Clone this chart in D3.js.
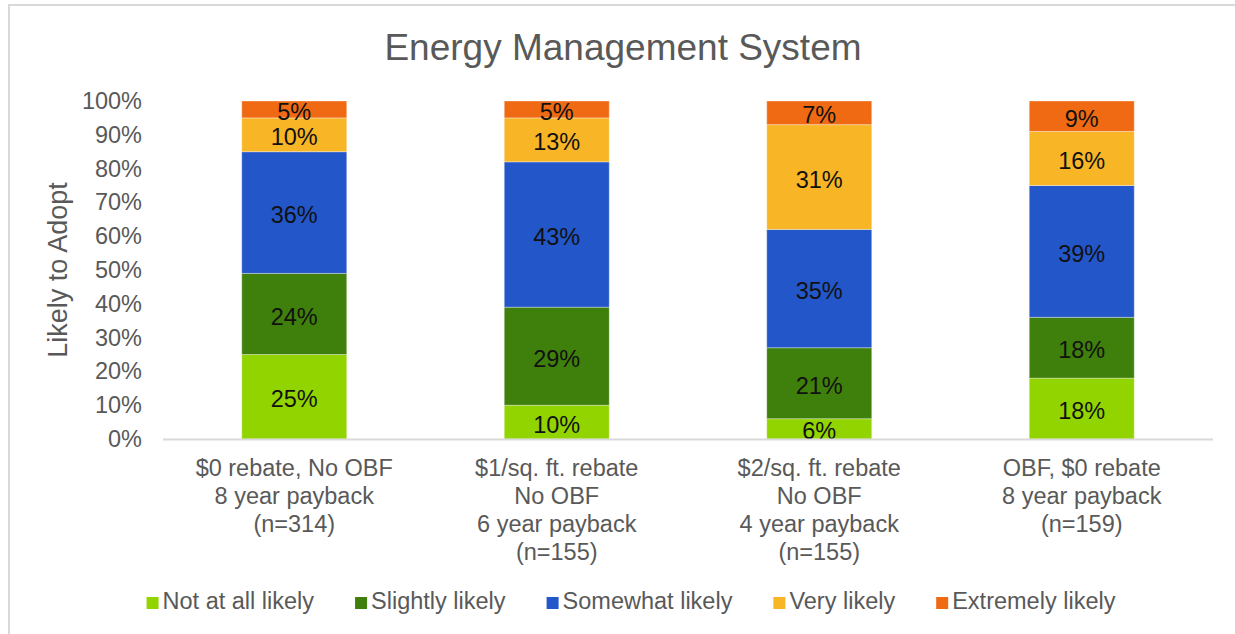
<!DOCTYPE html>
<html>
<head>
<meta charset="utf-8">
<script src="https://cdn.jsdelivr.net/npm/d3@7"></script>
<style>
  html, body { margin: 0; padding: 0; background: #fff; }
  svg { display: block; font-family: "Liberation Sans", Arial, sans-serif; }
</style>
</head>
<body>
<svg id="chart" width="1235" height="634"></svg>
<script>
// Survey scenarios (x categories), one label line per array entry
const categories = [
  ["$0 rebate, No OBF", "8 year payback", "(n=314)"],
  ["$1/sq. ft. rebate", "No OBF", "6 year payback", "(n=155)"],
  ["$2/sq. ft. rebate", "No OBF", "4 year payback", "(n=155)"],
  ["OBF, $0 rebate", "8 year payback", "(n=159)"]
];

// Response levels, bottom to top of each stack
const seriesNames = ["Not at all likely", "Slightly likely", "Somewhat likely", "Very likely", "Extremely likely"];
const seriesColors = ["#92d400", "#3f7f0b", "#2356c8", "#f8b526", "#f06a14"];

// Share of respondents (%) per level, one value per scenario
const notAtAll  = [25, 10, 6, 18];
const slightly  = [24, 29, 21, 18];
const somewhat  = [36, 43, 35, 39];
const very      = [10, 13, 31, 16];
const extremely = [5, 5, 7, 9];

const yTicks = [0, 10, 20, 30, 40, 50, 60, 70, 80, 90, 100];

const seriesValues = [notAtAll, slightly, somewhat, very, extremely];
const rows = categories.map((c, i) => {
  const r = { key: i };
  seriesNames.forEach((s, j) => { r[s] = seriesValues[j][i]; });
  return r;
});

const svg = d3.select("#chart");
const textGray = "#595959";

// Outer chart frame
svg.append("rect")
  .attr("x", 9).attr("y", 5)
  .attr("width", 1240).attr("height", 640)
  .attr("fill", "#fff")
  .attr("stroke", "#d9d9d9").attr("stroke-width", 2);

const plot = { left: 163, right: 1213, top: 101, bottom: 439 };

const x = d3.scaleBand()
  .domain(d3.range(categories.length))
  .range([plot.left, plot.right])
  .paddingInner(0.6)
  .paddingOuter(0.3);

const y = d3.scaleLinear().domain([0, 100]).range([plot.bottom, plot.top]);

const stack = d3.stack().keys(seriesNames);
const layers = stack(rows);

// Title
svg.append("text")
  .attr("x", 623).attr("y", 60)
  .attr("text-anchor", "middle")
  .attr("fill", textGray)
  .style("font-size", "37px")
  .text("Energy Management System");

// Y axis title
svg.append("text")
  .attr("transform", `translate(67,${(plot.top + plot.bottom) / 2}) rotate(-90)`)
  .attr("text-anchor", "middle")
  .attr("fill", textGray)
  .style("font-size", "27px")
  .text("Likely to Adopt");

// Y axis labels (no line, no ticks)
const yAxis = svg.append("g")
  .attr("transform", `translate(${plot.left},0)`)
  .call(d3.axisLeft(y).tickValues(yTicks).tickFormat(d => d + "%").tickSize(0).tickPadding(21));
yAxis.select(".domain").remove();
yAxis.selectAll("text")
  .attr("fill", textGray)
  .style("font-size", "23.5px")
  .style("font-family", "'Liberation Sans', Arial, sans-serif");

// Stacked bars
const layerG = svg.append("g")
  .selectAll("g")
  .data(layers)
  .join("g")
  .attr("fill", (d, i) => seriesColors[i]);

layerG.selectAll("rect")
  .data(d => d)
  .join("rect")
  .attr("x", (d, i) => x(i))
  .attr("width", x.bandwidth())
  .attr("y", d => y(d[1]))
  .attr("height", d => y(d[0]) - y(d[1]))
  .attr("stroke", "rgba(255,255,255,0.35)")
  .attr("stroke-width", 1);

// Value labels centred in each segment
layers.forEach((layer, j) => {
  svg.append("g")
    .selectAll("text")
    .data(layer)
    .join("text")
    .attr("x", (d, i) => x(i) + x.bandwidth() / 2)
    .attr("y", d => (y(d[0]) + y(d[1])) / 2)
    .attr("dy", "0.45em")
    .attr("text-anchor", "middle")
    .attr("fill", "#111")
    .style("font-size", "23.5px")
    .text(d => (d[1] - d[0]) + "%");
});

// Category axis baseline
svg.append("line")
  .attr("x1", plot.left).attr("x2", plot.right)
  .attr("y1", plot.bottom + 0.5).attr("y2", plot.bottom + 0.5)
  .attr("stroke", "#d9d9d9").attr("stroke-width", 2);

// Multi-line category labels
const catG = svg.append("g")
  .selectAll("text")
  .data(categories)
  .join("text")
  .attr("x", (d, i) => x(i) + x.bandwidth() / 2)
  .attr("y", 476)
  .attr("text-anchor", "middle")
  .attr("fill", textGray)
  .style("font-size", "23.5px");
catG.selectAll("tspan")
  .data(d => d)
  .join("tspan")
  .attr("x", function () { return this.parentNode.getAttribute("x"); })
  .attr("dy", (d, i) => i === 0 ? 0 : 28)
  .text(d => d);

// Legend
const legend = svg.append("g");
const items = legend.selectAll("g")
  .data(seriesNames)
  .join("g");
items.append("rect")
  .attr("width", 12).attr("height", 12)
  .attr("y", -12)
  .attr("fill", (d, i) => seriesColors[i]);
items.append("text")
  .attr("x", 16)
  .attr("fill", textGray)
  .style("font-size", "23.5px")
  .text(d => d);

const gap = 41;
let cursor = 0;
items.each(function () {
  const g = d3.select(this);
  g.attr("transform", `translate(${cursor},0)`);
  cursor += 16 + g.select("text").node().getComputedTextLength() + gap;
});
const legendWidth = cursor - gap;
legend.attr("transform", `translate(${631 - legendWidth / 2},609)`);
</script>
</body>
</html>
